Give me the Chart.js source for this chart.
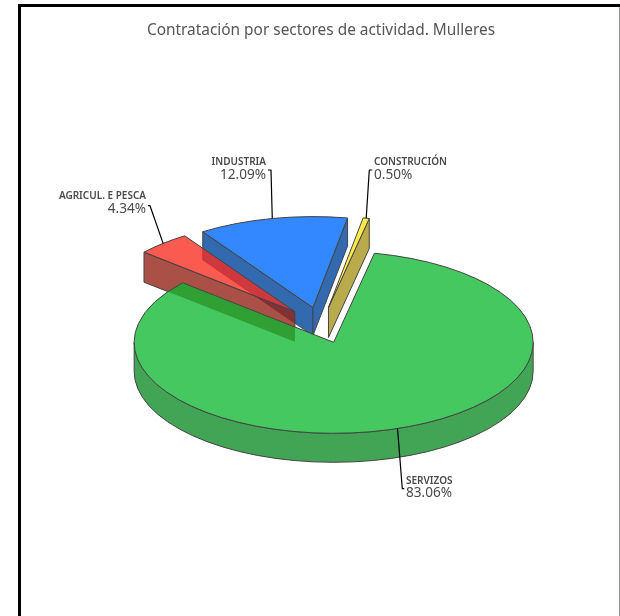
<!DOCTYPE html>
<html><head><meta charset="utf-8">
<script src="https://cdn.jsdelivr.net/npm/chart.js@4"></script>
<style>html,body{margin:0;padding:0;background:#fff}canvas{display:block}#w{position:relative;width:620px;height:616px}</style>
</head><body><div id="w"><canvas id="c" width="620" height="616"></canvas></div>
<script>
const chartTitle = 'Contratación por sectores de actividad. Mulleres';
const categories = ['SERVIZOS', 'AGRICUL. E PESCA', 'INDUSTRIA', 'CONSTRUCIÓN'];
const shares = [83.06, 4.34, 12.09, 0.50];
const sliceColors = ['#44C85F', 'rgba(249,44,31,0.78)', '#3388FF', '#FFE84A'];
const wallColors = ['#41A555', 'rgba(149,36,24,0.8)', '#3269AF', '#B9AA4B'];
const wallDepths = [29, 30, 28, 30];
const tilt = 91 / 199.5;
const explode = 39.5;
const outline = '#444';
const overlapGreen = '#30A034';

// label anchor: elbow of the leader, tick direction, text position
const labelLayout = [
  {ex: 402.3, ey: 488.7, tick: 2,  tx: 406, ny: 481, vy: 493.5, align: 'left'},
  {ex: 150,   ey: 205.7, tick: -2, tx: 146, ny: 196, vy: 209.5, align: 'right'},
  {ex: 271,   ey: 170,   tick: -3, tx: 266, ny: 162, vy: 175.5, align: 'right'},
  {ex: 369.3, ey: 170,   tick: 3,  tx: 374, ny: 162, vy: 175.5, align: 'left'}
];

function geo(arc) {
  const off = arc.options.offset / 4, mid = (arc.startAngle + arc.endAngle) / 2;
  return {
    ax: arc.x + Math.cos(mid) * off,
    ay: arc.y + Math.sin(mid) * off * tilt,
    r: arc.outerRadius + off,
    s: arc.startAngle, e: arc.endAngle, mid
  };
}
function radialWall(ctx, g, ang, d) {
  const x = g.ax + Math.cos(ang) * g.r, y = g.ay + Math.sin(ang) * g.r * tilt;
  ctx.beginPath();
  ctx.moveTo(g.ax, g.ay); ctx.lineTo(x, y); ctx.lineTo(x, y + d); ctx.lineTo(g.ax, g.ay + d); ctx.closePath();
}
function outerWall(ctx, g, a, b, d) {
  ctx.beginPath();
  ctx.ellipse(g.ax, g.ay, g.r, g.r * tilt, 0, a, b);
  ctx.ellipse(g.ax, g.ay + d, g.r, g.r * tilt, 0, b, a, true);
  ctx.closePath();
}
function topPath(ctx, g) {
  ctx.beginPath();
  ctx.moveTo(g.ax, g.ay);
  ctx.ellipse(g.ax, g.ay, g.r, g.r * tilt, 0, g.s, g.e);
  ctx.closePath();
}
function wallsOf(ctx, i, arc, paint) {
  const g = geo(arc), d = wallDepths[i];
  // radial faces turned towards the viewer
  if (Math.cos(g.s) < 0) { radialWall(ctx, g, g.s, d); paint(); }
  if (Math.cos(g.e) > 0) { radialWall(ctx, g, g.e, d); paint(); }
  // rim, only where it faces the viewer
  const a = Math.max(g.s, 0), b = Math.min(g.e, Math.PI);
  if (b > a) { outerWall(ctx, g, a, b, d); paint(); }
}
const pie3d = {
  id: 'pie3d',
  beforeDraw(chart) {
    const ctx = chart.ctx;
    ctx.save();
    ctx.fillStyle = '#fff'; ctx.fillRect(0, 0, 620, 616);
    ctx.fillStyle = '#999';
    ctx.fillRect(619, 6, 1, 610);
    ctx.fillStyle = '#000';
    ctx.fillRect(18, 4, 602, 3);
    ctx.fillRect(18, 4, 3, 612);
    ctx.restore();
  },
  beforeDatasetsDraw(chart) {
    const ctx = chart.ctx, arcs = chart.getDatasetMeta(0).data;
    const stroke = () => { ctx.strokeStyle = outline; ctx.lineWidth = 1; ctx.lineJoin = 'round'; ctx.stroke(); };
    [2, 3, 1, 0].forEach(i => {
      const arc = arcs[i];
      wallsOf(ctx, i, arc, () => { ctx.fillStyle = wallColors[i]; ctx.fill(); stroke(); });
      topPath(ctx, geo(arc));
      ctx.fillStyle = arc.options.backgroundColor; ctx.fill();
      if (i !== 0) stroke();
    });
    // the faces that pass behind the big slice show through it
    ctx.save();
    topPath(ctx, geo(arcs[0])); ctx.clip();
    [1, 2].forEach(i => wallsOf(ctx, i, arcs[i], () => { ctx.fillStyle = overlapGreen; ctx.fill(); }));
    ctx.restore();
    topPath(ctx, geo(arcs[0])); stroke();

    arcs.forEach((arc, i) => {
      const g = geo(arc), L = labelLayout[i];
      ctx.save();
      ctx.strokeStyle = '#000'; ctx.lineWidth = 1.2;
      ctx.beginPath();
      ctx.moveTo(g.ax + Math.cos(g.mid) * g.r, g.ay + Math.sin(g.mid) * g.r * tilt);
      ctx.lineTo(L.ex, L.ey); ctx.lineTo(L.ex + L.tick, L.ey);
      ctx.stroke();
      ctx.fillStyle = '#4a4a4a';
      ctx.textAlign = L.align; ctx.textBaseline = 'middle';
      ctx.font = '600 10px "Noto Sans"';
      ctx.fillText(categories[i], L.tx, L.ny);
      ctx.font = '13.6px "Noto Sans"';
      ctx.fillText(shares[i].toFixed(2) + '%', L.tx, L.vy);
      ctx.restore();
    });
    return false;
  }
};
new Chart(document.getElementById('c'), {
  type: 'pie',
  data: {
    labels: categories,
    datasets: [{
      data: shares,
      backgroundColor: sliceColors,
      borderWidth: 0,
      offset: explode * 4
    }]
  },
  options: {
    responsive: false,
    animation: false,
    rotation: 11.8,
    radius: 199.5 - explode,
    layout: {padding: {left: 22, right: 0, top: 0, bottom: 9}},
    plugins: {
      legend: {display: false},
      tooltip: {enabled: false},
      title: {
        display: true, text: chartTitle, color: '#555',
        font: {family: '"Noto Sans"', size: 15.4, weight: 'normal'},
        padding: {top: 21, bottom: 4}
      }
    }
  },
  plugins: [pie3d]
});
</script></body></html>
